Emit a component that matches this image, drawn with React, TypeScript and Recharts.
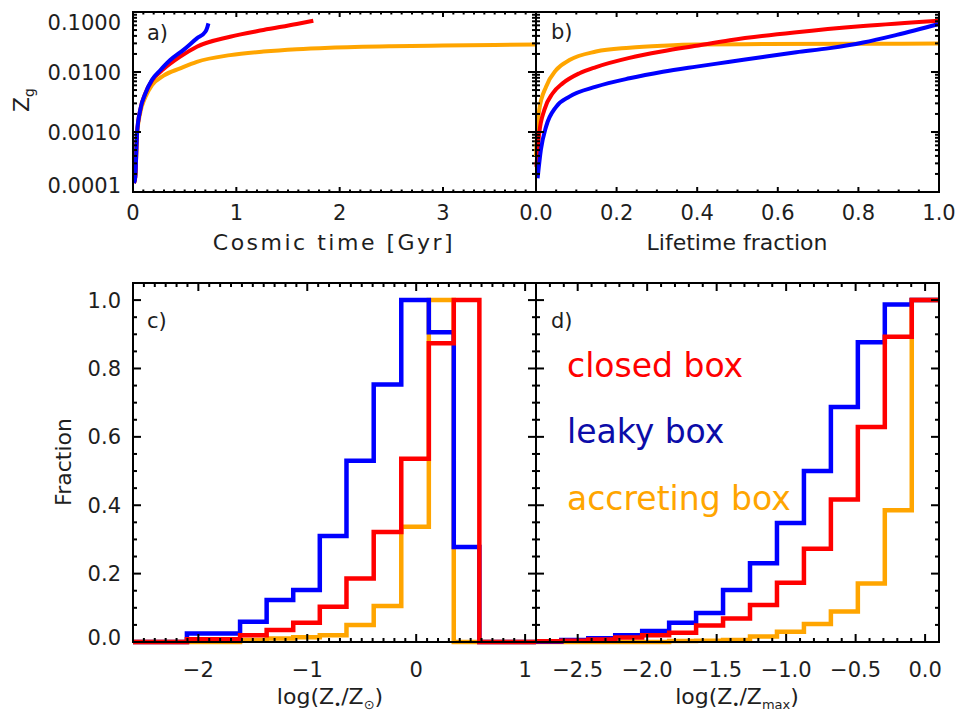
import React from "react";
import { LineChart, Line, XAxis, YAxis } from "recharts";

const RED = "#ff0000";
const BLUE = "#0000ff";
const ORANGE = "#ffa500";
const NAVY = "#0c0ca8";
const INK = "#1e1e1e";
const FONT = "'DejaVu Sans', Verdana, sans-serif";

// a) gas metallicity vs cosmic time [Gyr]
const aBlueT = [0.01, 0.022, 0.039, 0.07, 0.119, 0.184, 0.264, 0.36, 0.489, 0.618, 0.7, 0.72, 0.73];
const aBlueZ = [0.000141, 0.000178, 0.00095, 0.00234, 0.00437, 0.00741, 0.0107, 0.0158, 0.0234, 0.0363, 0.0468, 0.0562, 0.0646];
const aRedT = [0.01, 0.022, 0.039, 0.07, 0.119, 0.184, 0.296, 0.457, 0.618, 0.94, 1.262, 1.585, 1.745];
const aRedZ = [0.000141, 0.000178, 0.00095, 0.00234, 0.00437, 0.0072, 0.0112, 0.018, 0.0264, 0.0387, 0.0501, 0.0631, 0.0716];
const aOrangeT = [0.01, 0.022, 0.039, 0.07, 0.119, 0.184, 0.296, 0.457, 0.618, 0.94, 1.262, 1.585, 1.906, 2.5, 3.0, 3.5, 3.9];
const aOrangeZ = [0.000141, 0.000178, 0.00089, 0.00209, 0.0038, 0.00603, 0.0087, 0.0115, 0.0148, 0.0191, 0.0219, 0.024, 0.0254, 0.0269, 0.0276, 0.0283, 0.0288];

// b) same tracks vs lifetime fraction
const bBlueF = [0.004, 0.012, 0.025, 0.05, 0.083, 0.149, 0.232, 0.315, 0.398, 0.481, 0.563, 0.646, 0.729, 0.812, 0.895, 1.0];
const bBlueZ = [0.00017, 0.0005, 0.00123, 0.00263, 0.00389, 0.00569, 0.00785, 0.0101, 0.0123, 0.0148, 0.0178, 0.0213, 0.025, 0.031, 0.0415, 0.0631];
const bRedF = [0.001, 0.008, 0.0207, 0.0415, 0.066, 0.108, 0.149, 0.232, 0.315, 0.398, 0.481, 0.647, 0.812, 1.0];
const bRedZ = [0.000263, 0.00095, 0.00234, 0.00442, 0.00646, 0.00955, 0.0121, 0.0172, 0.0222, 0.0274, 0.0338, 0.046, 0.0583, 0.0716];
const bOrangeF = [0.0, 0.003, 0.008, 0.025, 0.05, 0.083, 0.149, 0.232, 0.315, 0.398, 0.563, 0.812, 1.0];
const bOrangeZ = [0.000398, 0.00095, 0.00234, 0.00569, 0.0108, 0.0158, 0.0219, 0.0254, 0.0275, 0.0288, 0.0292, 0.0296, 0.0298];

// c) histograms of log(Z*/Zsun): bin edges and normalised counts
const cEdges = [-2.6, -2.105, -1.861, -1.617, -1.373, -1.129, -0.885, -0.64, -0.39, -0.137, 0.116, 0.345, 0.58, 1.1];
const cBlue = [0, 0.025, 0.025, 0.059, 0.123, 0.152, 0.31, 0.53, 0.753, 1.0, 0.906, 0.278, 0];
const cRed = [0, 0.008, 0.008, 0.02, 0.035, 0.056, 0.103, 0.186, 0.322, 0.536, 0.874, 1.0, 0];
const cOrange = [0, 0, 0, 0.006, 0.01, 0.014, 0.02, 0.05, 0.105, 0.337, 1.0, 0, 0];

// d) histograms of log(Z*/Zmax)
const dEdges = [-2.8, -2.618, -2.424, -2.23, -2.036, -1.842, -1.648, -1.454, -1.26, -1.066, -0.872, -0.678, -0.484, -0.29, -0.096, 0.1];
const dBlue = [0.001, 0.006, 0.011, 0.02, 0.032, 0.056, 0.085, 0.152, 0.23, 0.348, 0.5, 0.687, 0.877, 0.987, 1.0];
const dRed = [0.002, 0.004, 0.007, 0.013, 0.02, 0.027, 0.048, 0.069, 0.108, 0.173, 0.273, 0.417, 0.629, 0.893, 1.0];
const dOrange = [0, 0, 0, 0, 0, 0.003, 0.004, 0.006, 0.016, 0.03, 0.053, 0.089, 0.171, 0.385, 1.0];

const models = ["closed box", "leaky box", "accreting box"];

// axis ticks
const aMajorX = [0, 1, 2, 3];
const bMajorX = [0, 0.2, 0.4, 0.6, 0.8, 1.0];
const cMajorX = [-2, -1, 0, 1];
const dMajorX = [-2.5, -2.0, -1.5, -1.0, -0.5, 0.0];
const fracMajorY = [0, 0.2, 0.4, 0.6, 0.8, 1.0];
const zMajorY = [0.0001, 0.001, 0.01, 0.1];

const stepsOf = (a: number, b: number, step: number) => {
  const n = Math.round((b - a) / step);
  return Array.from({ length: n + 1 }, (_, i) => +(a + i * step).toFixed(6));
};
const logTicks = (() => {
  const out: number[] = [];
  for (let e = -4; e <= -2; e++) for (let k = 1; k <= 9; k++) out.push(+(k * Math.pow(10, e)).toPrecision(6));
  out.push(0.1);
  return out;
})();

const pts = (xs: number[], ys: number[]) => xs.map((x, i) => ({ x, y: ys[i] }));
const hist = (edges: number[], vals: number[]) => [
  ...vals.map((v, i) => ({ x: edges[i], y: v })),
  { x: edges[edges.length - 1], y: vals[vals.length - 1] },
];

const near = (a: number, b: number) => Math.abs(a - b) <= 1e-6 * Math.max(Math.abs(a), Math.abs(b), 1e-6);
const minus = (s: string) => s.replace("-", "\u2212");

type Side = "bottom" | "top" | "left" | "right";

function tickMaker(side: Side, major: number[], lens: [number, number], fmt?: (v: number) => string, off = 0, clamp?: [number, number]) {
  return (p: any) => {
    const { x, y, payload } = p;
    const v = payload.value;
    const big = major.some((m) => near(m, v));
    const len = big ? lens[0] : lens[1];
    let c = [x, y, x, y - len];
    if (side === "top") c = [x, y, x, y + len];
    if (side === "left") c = [x, y, x + len, y];
    if (side === "right") c = [x, y, x - len, y];
    let label = null;
    if (fmt && big) {
      if (side === "bottom") {
        label = (
          <text x={x} y={y + off} textAnchor="middle" fontSize={21} fill={INK} fontFamily={FONT}>
            {fmt(v)}
          </text>
        );
      } else {
        const ty = clamp ? Math.min(Math.max(y, clamp[0]), clamp[1]) : y;
        label = (
          <text x={x - off} y={ty} dy="0.36em" textAnchor="end" fontSize={21} fill={INK} fontFamily={FONT}>
            {fmt(v)}
          </text>
        );
      }
    }
    return (
      <g>
        <line x1={c[0]} y1={c[1]} x2={c[2]} y2={c[3]} stroke="#000" strokeWidth={2} />
        {label}
      </g>
    );
  };
}

type PanelProps = {
  box: { left: number; top: number; width: number; height: number; plot: { top: number; right: number; bottom: number; left: number } };
  xDomain: [number, number];
  xTicks: number[];
  xMajor: number[];
  xLens: [number, number];
  xFmt: (v: number) => string;
  xOff: number;
  yDomain: [number, number];
  yTicks: number[];
  yMajor: number[];
  yFmt?: (v: number) => string;
  yClamp?: [number, number];
  log?: boolean;
  children: React.ReactNode;
};

// every axis takes 1px, so the margins are one less than the plot insets
function Panel(props: PanelProps) {
  const { box, xDomain, xTicks, xMajor, xLens, xFmt, xOff, yDomain, yTicks, yMajor, yFmt, yClamp, log } = props;
  const axisLine = { stroke: "#000", strokeWidth: 2, strokeLinecap: "square" };
  const yLens: [number, number] = [8, 4];
  const scale = log ? "log" : "linear";
  const p = box.plot;
  const margin = { top: p.top - 1, right: p.right - 1, bottom: p.bottom - 1, left: p.left - 1 };
  return (
    <div style={{ position: "absolute", left: box.left, top: box.top }}>
      <LineChart width={box.width} height={box.height} margin={margin}>
        {props.children}
        <XAxis xAxisId="b" dataKey="x" type="number" domain={xDomain} ticks={xTicks} interval={0} height={1}
          tickSize={0} tickMargin={0} tickLine={false} axisLine={axisLine}
          tick={tickMaker("bottom", xMajor, xLens, xFmt, xOff)} />
        <XAxis xAxisId="t" orientation="top" dataKey="x" type="number" domain={xDomain} ticks={xTicks} interval={0}
          height={1} allowDataOverflow tickSize={0} tickMargin={0} tickLine={false} axisLine={axisLine}
          tick={tickMaker("top", xMajor, xLens)} />
        <YAxis yAxisId="l" type="number" scale={scale} domain={yDomain} ticks={yTicks} interval={0} width={1}
          tickSize={0} tickMargin={0} tickLine={false} axisLine={axisLine}
          tick={tickMaker("left", yMajor, yLens, yFmt, 12, yClamp)} />
        <YAxis yAxisId="r" orientation="right" type="number" scale={scale} domain={yDomain} ticks={yTicks} interval={0}
          width={1} allowDataOverflow tickSize={0} tickMargin={0} tickLine={false} axisLine={axisLine}
          tick={tickMaker("right", yMajor, yLens)} />
      </LineChart>
    </div>
  );
}

const curve = (key: string, data: { x: number; y: number }[], color: string) => (
  <Line key={key} xAxisId="b" yAxisId="l" data={data} dataKey="y" type="monotone" stroke={color}
    strokeWidth={4} dot={false} activeDot={false} isAnimationActive={false} />
);
const steps = (key: string, data: { x: number; y: number }[], color: string) => (
  <Line key={key} xAxisId="b" yAxisId="l" data={data} dataKey="y" type="stepAfter" stroke={color}
    strokeWidth={4.5} strokeLinejoin="miter" strokeLinecap="butt" dot={false} activeDot={false} isAnimationActive={false} />
);

export default function App() {
  const txt = { fontFamily: FONT, fill: INK };
  return (
    <div style={{ position: "absolute", left: 0, top: 0, width: 959, height: 711, background: "#fff" }}>
      <Panel
        box={{ left: 0, top: 0, width: 540, height: 260, plot: { top: 12, right: 4, bottom: 68, left: 133 } }}
        xDomain={[0, 3.9]} xTicks={stepsOf(0, 3.9, 0.1)} xMajor={aMajorX} xLens={[5, 2.5]}
        xFmt={(v) => String(v)} xOff={28}
        yDomain={[0.0001, 0.1]} yTicks={logTicks} yMajor={zMajorY} yFmt={(v) => v.toFixed(4)} yClamp={[22, 185]} log
      >
        {curve("ao", pts(aOrangeT, aOrangeZ), ORANGE)}
        {curve("ar", pts(aRedT, aRedZ), RED)}
        {curve("ab", pts(aBlueT, aBlueZ), BLUE)}
      </Panel>
      <Panel
        box={{ left: 500, top: 0, width: 459, height: 260, plot: { top: 12, right: 20, bottom: 68, left: 36 } }}
        xDomain={[0, 1]} xTicks={stepsOf(0, 1, 0.05)} xMajor={bMajorX} xLens={[5, 2.5]}
        xFmt={(v) => v.toFixed(1)} xOff={28}
        yDomain={[0.0001, 0.1]} yTicks={logTicks} yMajor={zMajorY} log
      >
        {curve("bo", pts(bOrangeF, bOrangeZ), ORANGE)}
        {curve("br", pts(bRedF, bRedZ), RED)}
        {curve("bb", pts(bBlueF, bBlueZ), BLUE)}
      </Panel>
      <Panel
        box={{ left: 0, top: 270, width: 540, height: 441, plot: { top: 13, right: 4, bottom: 69, left: 133 } }}
        xDomain={[-2.6, 1.1]} xTicks={stepsOf(-2.6, 1.1, 0.1)} xMajor={cMajorX} xLens={[8, 4]}
        xFmt={(v) => minus(String(v))} xOff={35}
        yDomain={[0, 1.05]} yTicks={stepsOf(0, 1.05, 0.05)} yMajor={fracMajorY} yFmt={(v) => v.toFixed(1)} yClamp={[13, 367.5]}
      >
        {steps("co", hist(cEdges, cOrange), ORANGE)}
        {steps("cb", hist(cEdges, cBlue), BLUE)}
        {steps("cr", hist(cEdges, cRed), RED)}
      </Panel>
      <Panel
        box={{ left: 500, top: 270, width: 459, height: 441, plot: { top: 13, right: 20, bottom: 69, left: 36 } }}
        xDomain={[-2.8, 0.1]} xTicks={stepsOf(-2.8, 0.1, 0.1)} xMajor={dMajorX} xLens={[8, 4]}
        xFmt={(v) => minus(v.toFixed(1))} xOff={35}
        yDomain={[0, 1.05]} yTicks={stepsOf(0, 1.05, 0.05)} yMajor={fracMajorY}
      >
        {steps("do", hist(dEdges, dOrange), ORANGE)}
        {steps("db", hist(dEdges, dBlue), BLUE)}
        {steps("dr", hist(dEdges, dRed), RED)}
      </Panel>
      <svg width={959} height={711} style={{ position: "absolute", left: 0, top: 0, pointerEvents: "none" }}>
        <text x={147} y={40} fontSize={21} {...txt}>a)</text>
        <text x={551} y={39} fontSize={21} {...txt}>b)</text>
        <text x={147} y={328} fontSize={21} {...txt}>c)</text>
        <text x={551} y={328} fontSize={21} {...txt}>d)</text>
        <text x={334} y={250} textAnchor="middle" fontSize={22} letterSpacing={2.5} {...txt}>Cosmic time [Gyr]</text>
        <text x={737} y={250} textAnchor="middle" fontSize={22} {...txt}>Lifetime fraction</text>
        <text x={29} y={100} transform="rotate(-90 29 100)" textAnchor="middle" fontSize={22} {...txt}>
          Z<tspan fontSize={14} dy={5}>g</tspan>
        </text>
        <text x={71} y={462} transform="rotate(-90 71 462)" textAnchor="middle" fontSize={22} {...txt}>Fraction</text>
        <text x={330} y={704} textAnchor="middle" fontSize={22} {...txt}>
          log(Z<tspan fontSize={12} dy={5}>•</tspan><tspan dy={-5}>/Z</tspan><tspan fontSize={13} dy={5}>⊙</tspan><tspan dy={-5}>)</tspan>
        </text>
        <text x={737} y={704} textAnchor="middle" fontSize={22} {...txt}>
          log(Z<tspan fontSize={12} dy={5}>•</tspan><tspan dy={-5}>/Z</tspan><tspan fontSize={13} dy={5}>max</tspan><tspan dy={-5}>)</tspan>
        </text>
        <text x={567} y={377} fontSize={33} fontFamily={FONT} fill={RED}>{models[0]}</text>
        <text x={567} y={443} fontSize={33} fontFamily={FONT} fill={NAVY}>{models[1]}</text>
        <text x={567} y={510} fontSize={33} fontFamily={FONT} fill={ORANGE}>{models[2]}</text>
      </svg>
    </div>
  );
}
